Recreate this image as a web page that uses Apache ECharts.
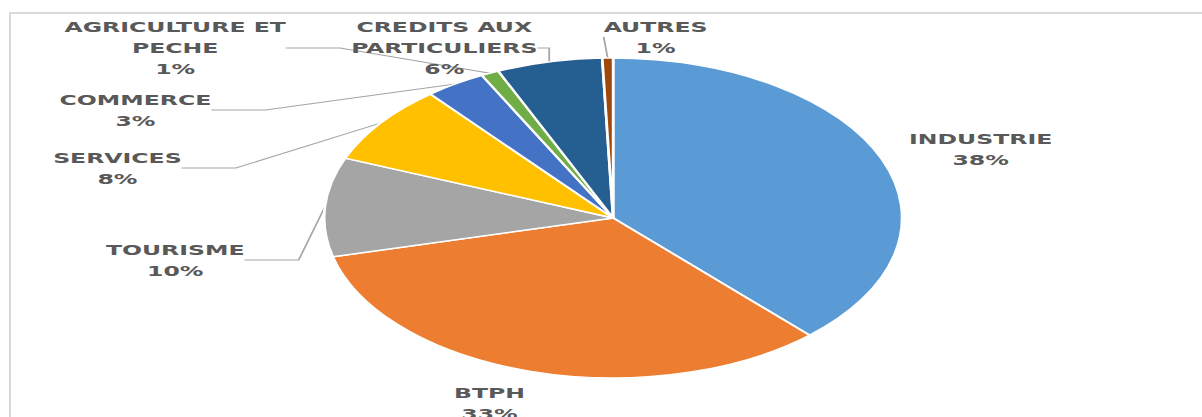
<!DOCTYPE html>
<html>
<head>
<meta charset="utf-8">
<script src="https://cdn.jsdelivr.net/npm/echarts@6/dist/echarts.min.js"></script>
<style>
    html, body { margin: 0; padding: 0; background: #fff; overflow: hidden; }
    #frame {
        position: absolute; left: 9px; top: 12px; width: 1200px; height: 410px;
        border: 2px solid #d9d9d9; box-sizing: border-box;
    }
    /* the source picture is stretched sideways, so the chart is too */
    #main {
        position: absolute; left: 0; top: 0; width: 665px; height: 417px;
        transform: scaleX(1.806); transform-origin: 0 0;
    }
</style>
</head>
<body>
<div id="frame"></div>
<div id="main"></div>
<script>
var mychart = echarts.init(document.getElementById('main'), null, { renderer: 'svg' });

// sectors, clockwise from the top
const sectors = ['INDUSTRIE', 'BTPH', 'TOURISME', 'SERVICES', 'COMMERCE',
    'AGRICULTURE ET\nPECHE', 'CREDITS AUX\nPARTICULIERS', 'AUTRES'];
const shares = [38.1, 33.0, 10.0, 8.0, 3.4, 1.0, 5.9, 0.6];
const colors = ['#5b9bd5', '#ed7d31', '#a5a5a5', '#ffc000', '#4472c4',
    '#70ad47', '#255e91', '#9e480e'];

// where the labels sit (unstretched page coords) and whether they get a leader line
const labelPos = [[543, 149], [271, 403], [97, 260], [65, 168], [75, 110],
    [97, 48], [246, 48], [363, 37]];
const withLine = [false, false, true, true, true, true, true, true];

var data = [];
for (let i = 0; i < sectors.length; i++) {
    data.push({
        name: sectors[i],
        value: shares[i],
        itemStyle: { color: colors[i] },
        labelLine: { show: withLine[i] }
    });
}

var option = {
    animation: false,
    series: [{
        type: 'pie',
        center: [339.5, 218],
        radius: 160,
        startAngle: 90,
        clockwise: true,
        avoidLabelOverlap: false,
        itemStyle: { borderColor: '#fff', borderWidth: 1.5 },
        label: {
            show: true,
            position: 'outside',
            formatter: function (p) {
                return p.name + '\n' + Math.round(p.value) + '%';
            },
            fontFamily: '"Liberation Sans Narrow", "DejaVu Sans Condensed", sans-serif',
            fontWeight: 'bold',
            fontSize: 14.5,
            lineHeight: 21,
            color: '#595959',
            align: 'center'
        },
        labelLine: {
            show: true,
            lineStyle: { color: '#a6a6a6', width: 1 }
        },
        labelLayout: function (params) {
            let pos = labelPos[params.dataIndex];
            return { x: pos[0], y: pos[1], align: 'center', verticalAlign: 'middle' };
        },
        data: data
    }]
};

mychart.setOption(option);
</script>
</body>
</html>
